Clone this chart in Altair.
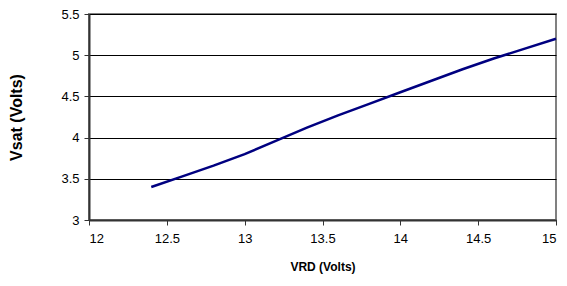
import altair as alt
import pandas as pd

vrd = [12.4, 12.6, 12.8, 13.0, 13.2, 13.4, 13.6, 13.8, 14.0, 14.2, 14.4, 14.6, 14.8, 15.0]
vsat = [3.40, 3.53, 3.66, 3.80, 3.96, 4.12, 4.27, 4.41, 4.55, 4.69, 4.83, 4.96, 5.08, 5.20]
x_ticks = [12, 12.5, 13, 13.5, 14, 14.5, 15]
y_ticks = [3, 3.5, 4, 4.5, 5, 5.5]

df = pd.DataFrame({"VRD": vrd, "Vsat": vsat})

chart = alt.Chart(df).mark_line(color="#000080", strokeWidth=2.5).encode(
    x=alt.X("VRD:Q", scale=alt.Scale(domain=[12, 15], nice=False, zero=False),
            axis=alt.Axis(title="VRD (Volts)", values=x_ticks, grid=False, format="~g",
                          titleFontSize=12, titleFontWeight="bold", titlePadding=16,
                          labelFontSize=13, labelPadding=7)),
    y=alt.Y("Vsat:Q", scale=alt.Scale(domain=[3, 5.5], nice=False, zero=False),
            axis=alt.Axis(title="Vsat (Volts)", values=y_ticks, grid=True, format="~g",
                          titleFontSize=16, titleFontWeight="bold", titlePadding=36,
                          labelFontSize=13, labelPadding=5)),
).properties(
    width=467, height=206,
    autosize=alt.AutoSizeParams(type="none"),
    padding={"left": 81, "top": 6, "right": 3, "bottom": 64},
).configure_view(
    stroke="#808080", strokeWidth=2,
).configure_axis(
    labelFont="Liberation Sans", titleFont="Liberation Sans",
    labelColor="#000000", titleColor="#000000",
    domainColor="#333333", domainWidth=2,
    tickColor="#333333", tickSize=5, tickWidth=1,
    gridColor="#000000", gridWidth=1, gridOpacity=1,
)

chart.save("out.html", embed_options={"renderer": "svg", "actions": False})
